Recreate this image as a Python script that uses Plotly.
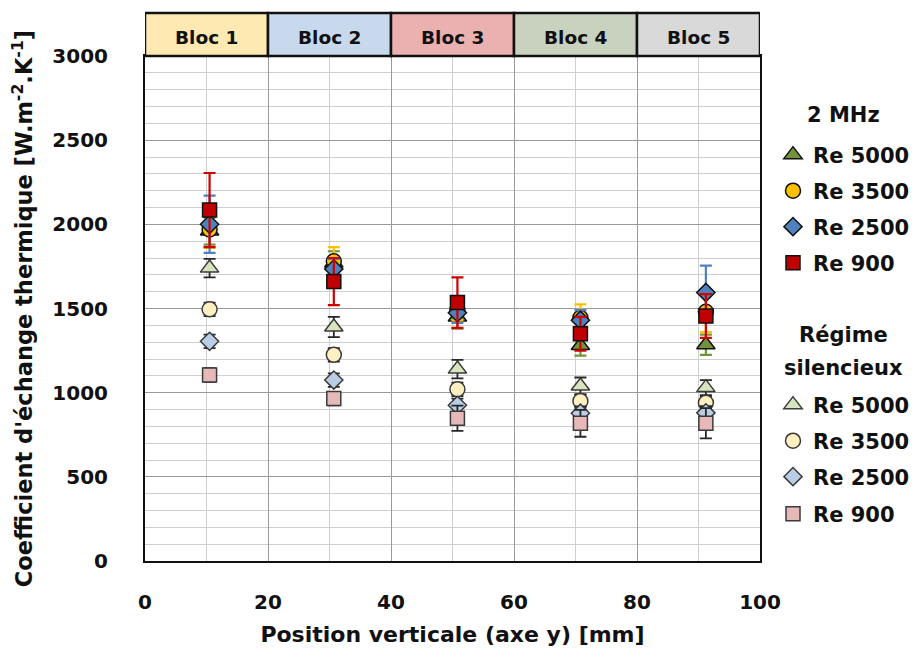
import plotly.graph_objects as go

# ---------------- data ----------------
positions = [10.5, 30.7, 50.8, 70.8, 91.2]   # mm

mhz_re5000 = [1960, 1770, 1450, 1280, 1285]
mhz_re5000_err = [80, 70, 70, 60, 60]
mhz_re3500 = [1970, 1780, 1490, 1445, 1480]
mhz_re3500_err = [110, 85, 60, 80, 120]
mhz_re2500 = [2000, 1735, 1475, 1430, 1595]
mhz_re2500_err = [170, 60, 60, 60, 160]
mhz_re900 = [2085, 1660, 1535, 1350, 1455]
mhz_re900_err = [220, 140, 150, 100, 130]

sil_re5000 = [1740, 1390, 1140, 1040, 1030]
sil_re5000_err = [55, 60, 55, 50, 45]
sil_re3500 = [1495, 1225, 1020, 950, 940]
sil_re3500_err = [40, 40, 40, 40, 40]
sil_re2500 = [1305, 1075, 925, 878, 880]
sil_re2500_err = [40, 40, 40, 40, 40]
sil_re900 = [1105, 965, 848, 818, 818]
sil_re900_err = [40, 40, 75, 80, 90]

bloc_labels = ["Bloc 1", "Bloc 2", "Bloc 3", "Bloc 4", "Bloc 5"]
bloc_edges = [0, 20, 40, 60, 80, 100]
bloc_colors = ["#FFE9B3", "#C9D9ED", "#EBB1B1", "#C9D1BF", "#D9D9D9"]

series_names = ["Re 5000", "Re 3500", "Re 2500", "Re 900"]

FONT = "DejaVu Sans"

# ---------------- figure ----------------
fig = go.Figure()

mhz = [
    (mhz_re5000, mhz_re5000_err, "triangle-up", 16, "#72933A", "#72933A"),
    (mhz_re3500, mhz_re3500_err, "circle", 15, "#FFC000", "#FFC000"),
    (mhz_re2500, mhz_re2500_err, "diamond", 14, "#4F81BD", "#4F81BD"),
    (mhz_re900, mhz_re900_err, "square", 14, "#C00000", "#D00000"),
]
sil = [
    (sil_re5000, sil_re5000_err, "triangle-up", 16, "#D7E4BD"),
    (sil_re3500, sil_re3500_err, "circle", 15, "#FFF0C2"),
    (sil_re2500, sil_re2500_err, "diamond", 14, "#B9CDE5"),
    (sil_re900, sil_re900_err, "square", 14, "#E6B9B8"),
]

legend_rows_px = [155, 191, 227, 263, 405, 441, 477, 514]

# silent regime first (drawn beneath), then 2 MHz
for k, (vals, errs, sym, size, fill) in enumerate(sil):
    fig.add_trace(go.Scatter(
        x=positions, y=vals, mode="markers", name="<b>%s</b>" % series_names[k],
        marker=dict(symbol=sym, size=size, color=fill,
                    line=dict(color="#3a3a3a", width=1.5)),
        error_y=dict(type="data", array=errs, color="#262626", thickness=1.8, width=6),
        legend="legend%d" % (k + 5),
    ))
for k, (vals, errs, sym, size, fill, ecol) in enumerate(mhz):
    fig.add_trace(go.Scatter(
        x=positions, y=vals, mode="markers", name="<b>%s</b>" % series_names[k],
        marker=dict(symbol=sym, size=size, color=fill,
                    line=dict(color="#111111", width=1.5)),
        error_y=dict(type="data", array=errs, color=ecol, thickness=2.2, width=6),
        legend="legend" if k == 0 else "legend%d" % (k + 1),
    ))

# page geometry (the page body adds an 8 px offset)
OFF = 8
W, H = 918 - OFF, 655 - OFF
PLOT_L, PLOT_R, PLOT_T, PLOT_B = 145, 760, 56, 561   # in page pixels
ML, MT = PLOT_L - OFF, PLOT_T - OFF
MR, MB = W - (PLOT_R - OFF), H - (PLOT_B - OFF)
PW, PH = PLOT_R - PLOT_L, PLOT_B - PLOT_T

def px_to_paper_x(px):
    return (px - PLOT_L) / PW

def px_to_paper_y(py):
    return (PLOT_B - py) / PH

legend_font = dict(family=FONT, size=21, color="#111111")
for i, ypx in enumerate(legend_rows_px):
    key = "legend" if i == 0 else "legend%d" % (i + 1)
    fig.layout[key] = dict(
        x=px_to_paper_x(773), y=px_to_paper_y(ypx), xanchor="left", yanchor="middle",
        bgcolor="rgba(0,0,0,0)", borderwidth=0, font=legend_font,
    )

# header blocs
header_top = 1 + 43 / PH
for lab, x0, x1, col in zip(bloc_labels, bloc_edges[:-1], bloc_edges[1:], bloc_colors):
    fig.add_shape(type="rect", xref="x", yref="paper", x0=x0, x1=x1, y0=1, y1=header_top,
                  fillcolor=col, line=dict(color="#111111", width=2.5), layer="above")
    fig.add_annotation(x=(x0 + x1) / 2, y=(1 + header_top) / 2, xref="x", yref="paper",
                       text=lab, showarrow=False, xanchor="center", yanchor="middle", yshift=-3,
                       font=dict(family=FONT, size=18.5, color="#111111", weight="bold"))

# legend group titles
for txt, ypx in [("2 MHz", 115), ("Régime", 335), ("silencieux", 368)]:
    fig.add_annotation(x=px_to_paper_x(843), y=px_to_paper_y(ypx), xref="paper", yref="paper",
                       text=txt, showarrow=False, xanchor="center", yanchor="middle",
                       font=dict(family=FONT, size=21, color="#111111", weight="bold"))

fig.update_layout(
    width=W, height=H,
    margin=dict(l=ML, r=MR, t=MT, b=MB, autoexpand=False),
    paper_bgcolor="white", plot_bgcolor="white",
    font=dict(family=FONT, size=20, color="#111111"),
    showlegend=True,
)

fig.update_xaxes(
    range=[0, 100], dtick=20, tick0=0, showgrid=True, gridcolor="#9a9a9a", gridwidth=1,
    minor=dict(dtick=10, showgrid=True, gridcolor="#cfcfcf", gridwidth=1),
    zeroline=False, showline=True, mirror=True, linecolor="#111111", linewidth=2,
    ticks="", ticklabelstandoff=22, automargin=False,
    tickfont=dict(family=FONT, size=20, color="#111111", weight="bold"),
    title=dict(text="Position verticale (axe y) [mm]", standoff=14,
               font=dict(family=FONT, size=22, color="#111111", weight="bold")),
)
fig.update_yaxes(
    range=[0, 3000], dtick=500, tick0=0, showgrid=True, gridcolor="#9a9a9a", gridwidth=1,
    minor=dict(dtick=100, showgrid=True, gridcolor="#cfcfcf", gridwidth=1),
    zeroline=False, showline=True, mirror=True, linecolor="#111111", linewidth=2,
    ticks="", ticklabelstandoff=31, automargin=False,
    tickfont=dict(family=FONT, size=20, color="#111111", weight="bold"),
    title=dict(text="Coefficient d'échange thermique [W.m<sup>-2</sup>.K<sup>-1</sup>]", standoff=25,
               font=dict(family=FONT, size=22.5, color="#111111", weight="bold")),
)

fig.write_html("out.html")
